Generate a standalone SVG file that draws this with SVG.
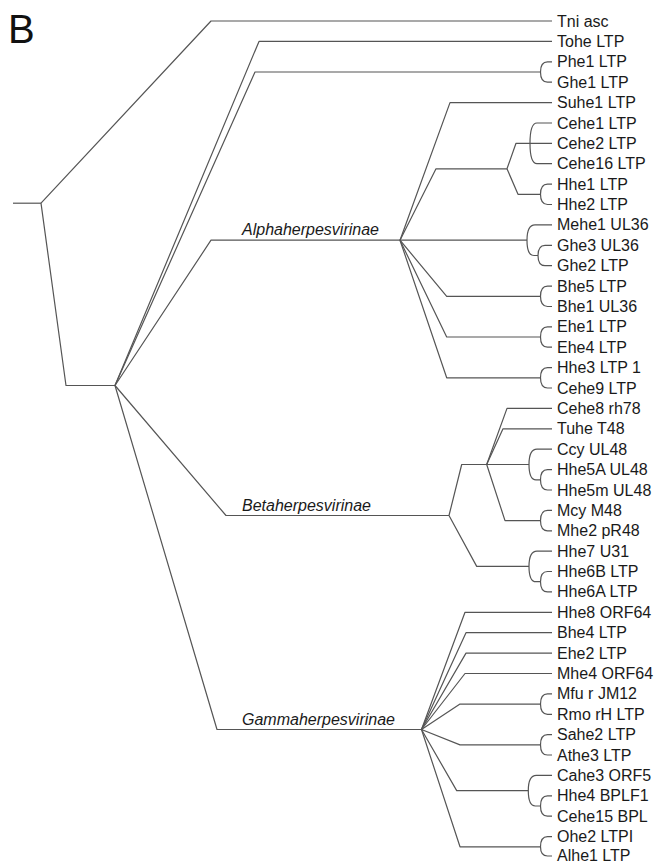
<svg xmlns="http://www.w3.org/2000/svg" width="657" height="863" viewBox="0 0 657 863">
  <style>
    .br { fill: none; stroke: #555; stroke-width: 1.2; stroke-linejoin: round; stroke-linecap: butt; }
    .leaf { font-family: "Liberation Sans", Arial, Helvetica, sans-serif; font-size: 16px; fill: #1a1a1a; }
    .clade { font-family: "Liberation Sans", Arial, Helvetica, sans-serif; font-size: 16px; font-style: italic; fill: #1a1a1a; }
    .panel { font-family: "Liberation Sans", Arial, Helvetica, sans-serif; font-size: 40px; fill: #111; }
  </style>
  <rect width="657" height="863" fill="#fff"/>

  <g id="panel-label"><text class="panel" x="8" y="43">B</text></g>

  <!-- branches of the tree -->
  <g id="branches" class="br">
    <!-- root -->
    <path d="M13 203.2 H41"/>
    <path d="M41 203.2 L211 21 H552"/>
    <path d="M41 203.2 L66 385.5 H115"/>
    <!-- node A -->
    <path d="M115 385.5 L259 41.4 H552"/>
    <path d="M115 385.5 L255 72 H540.5"/>
    <path d="M540.5 72 Q540.5 61.8 547.5 61.8 H552 M540.5 72 Q540.5 82.2 547.5 82.2 H552"/>
    <path d="M115 385.5 L211 240.2 H400"/>
    <path d="M115 385.5 L226 515.5 H449"/>
    <path d="M115 385.5 L217 729.5 H421.5"/>

    <!-- Alphaherpesvirinae -->
    <path d="M400 240.2 L450 102.6 H552"/>
    <path d="M400 240.2 L436 168.8 H507"/>
    <path d="M507 168.8 L516 143.3 H530"/>
    <path d="M530 143.3 Q530 123 537 123 H552 M530 143.3 H552 M530 143.3 Q530 163.7 537 163.7 H552"/>
    <path d="M507 168.8 L518 194.3 H540.5"/>
    <path d="M540.5 194.3 Q540.5 184.1 547.5 184.1 H552 M540.5 194.3 Q540.5 204.5 547.5 204.5 H552"/>
    <path d="M400 240.2 H527"/>
    <path d="M527 240.2 Q527 224.9 535 224.9 H552 M527 240.2 Q527 255.5 534 255.5 H538"/>
    <path d="M538 255.5 Q538 245.3 545 245.3 H552 M538 255.5 Q538 265.7 545 265.7 H552"/>
    <path d="M400 240.2 L446.7 296.3 H540.5"/>
    <path d="M540.5 296.3 Q540.5 286.1 547.5 286.1 H552 M540.5 296.3 Q540.5 306.5 547.5 306.5 H552"/>
    <path d="M400 240.2 L446.7 337 H540.5"/>
    <path d="M540.5 337 Q540.5 326.9 547.5 326.9 H552 M540.5 337 Q540.5 347.2 547.5 347.2 H552"/>
    <path d="M400 240.2 L446.7 377.8 H540.5"/>
    <path d="M540.5 377.8 Q540.5 367.6 547.5 367.6 H552 M540.5 377.8 Q540.5 388 547.5 388 H552"/>

    <!-- Betaherpesvirinae -->
    <path d="M449 515.5 L461.7 464.5 H529"/>
    <path d="M486.7 464.5 L507 408.4 H552"/>
    <path d="M486.7 464.5 L503 428.8 H552"/>
    <path d="M529 464.5 Q529 449.2 537 449.2 H552 M529 464.5 Q529 479.8 536 479.8 H540.5"/>
    <path d="M540.5 479.8 Q540.5 469.6 547.5 469.6 H552 M540.5 479.8 Q540.5 490 547.5 490 H552"/>
    <path d="M486.7 464.5 L505 520.6 H540.5"/>
    <path d="M540.5 520.6 Q540.5 510.4 547.5 510.4 H552 M540.5 520.6 Q540.5 530.8 547.5 530.8 H552"/>
    <path d="M449 515.5 L476.7 566.4 H529"/>
    <path d="M529 566.4 Q529 551.1 537 551.1 H552 M529 566.4 Q529 581.7 536 581.7 H540.5"/>
    <path d="M540.5 581.7 Q540.5 571.5 547.5 571.5 H552 M540.5 581.7 Q540.5 591.9 547.5 591.9 H552"/>

    <!-- Gammaherpesvirinae -->
    <path d="M421.5 729.5 L465 612.3 H552"/>
    <path d="M421.5 729.5 L466 632.7 H552"/>
    <path d="M421.5 729.5 L466 653.1 H552"/>
    <path d="M421.5 729.5 L465 673.5 H552"/>
    <path d="M421.5 729.5 L460 704.1 H540.5"/>
    <path d="M540.5 704.1 Q540.5 693.9 547.5 693.9 H552 M540.5 704.1 Q540.5 714.3 547.5 714.3 H552"/>
    <path d="M421.5 729.5 L460 744.9 H540.5"/>
    <path d="M540.5 744.9 Q540.5 734.7 547.5 734.7 H552 M540.5 744.9 Q540.5 755 547.5 755 H552"/>
    <path d="M421.5 729.5 L456.7 790.6 H528.3"/>
    <path d="M528.3 790.6 Q528.3 775.4 536.3 775.4 H552 M528.3 790.6 Q528.3 806 535.3 806 H540.5"/>
    <path d="M540.5 806 Q540.5 795.8 547.5 795.8 H552 M540.5 806 Q540.5 816.2 547.5 816.2 H552"/>
    <path d="M421.5 729.5 L460 846.8 H540.5"/>
    <path d="M540.5 846.8 Q540.5 836.6 547.5 836.6 H552 M540.5 846.8 Q540.5 856 547.5 856 H552"/>
  </g>

  <!-- clade names -->
  <g id="clade-alpha"><text class="clade" x="242" y="235">Alphaherpesvirinae</text></g>
  <g id="clade-beta"><text class="clade" x="242" y="510.5">Betaherpesvirinae</text></g>
  <g id="clade-gamma"><text class="clade" x="242" y="724.5">Gammaherpesvirinae</text></g>

  <!-- leaf names -->
  <g id="leaf-tni-asc"><text class="leaf" x="557" y="26.5">Tni asc</text></g>
  <g id="leaf-tohe-ltp"><text class="leaf" x="557" y="46.9">Tohe LTP</text></g>
  <g id="leaf-phe1-ltp"><text class="leaf" x="557" y="67.3">Phe1 LTP</text></g>
  <g id="leaf-ghe1-ltp"><text class="leaf" x="557" y="87.7">Ghe1 LTP</text></g>
  <g id="leaf-suhe1-ltp"><text class="leaf" x="557" y="108.1">Suhe1 LTP</text></g>
  <g id="leaf-cehe1-ltp"><text class="leaf" x="557" y="128.5">Cehe1 LTP</text></g>
  <g id="leaf-cehe2-ltp"><text class="leaf" x="557" y="148.8">Cehe2 LTP</text></g>
  <g id="leaf-cehe16-ltp"><text class="leaf" x="557" y="169.2">Cehe16 LTP</text></g>
  <g id="leaf-hhe1-ltp"><text class="leaf" x="557" y="189.6">Hhe1 LTP</text></g>
  <g id="leaf-hhe2-ltp"><text class="leaf" x="557" y="210">Hhe2 LTP</text></g>
  <g id="leaf-mehe1-ul36"><text class="leaf" x="557" y="230.4">Mehe1 UL36</text></g>
  <g id="leaf-ghe3-ul36"><text class="leaf" x="557" y="250.8">Ghe3 UL36</text></g>
  <g id="leaf-ghe2-ltp"><text class="leaf" x="557" y="271.2">Ghe2 LTP</text></g>
  <g id="leaf-bhe5-ltp"><text class="leaf" x="557" y="291.6">Bhe5 LTP</text></g>
  <g id="leaf-bhe1-ul36"><text class="leaf" x="557" y="312">Bhe1 UL36</text></g>
  <g id="leaf-ehe1-ltp"><text class="leaf" x="557" y="332.4">Ehe1 LTP</text></g>
  <g id="leaf-ehe4-ltp"><text class="leaf" x="557" y="352.7">Ehe4 LTP</text></g>
  <g id="leaf-hhe3-ltp-1"><text class="leaf" x="557" y="373.1">Hhe3 LTP 1</text></g>
  <g id="leaf-cehe9-ltp"><text class="leaf" x="557" y="393.5">Cehe9 LTP</text></g>
  <g id="leaf-cehe8-rh78"><text class="leaf" x="557" y="413.9">Cehe8 rh78</text></g>
  <g id="leaf-tuhe-t48"><text class="leaf" x="557" y="434.3">Tuhe T48</text></g>
  <g id="leaf-ccy-ul48"><text class="leaf" x="557" y="454.7">Ccy UL48</text></g>
  <g id="leaf-hhe5a-ul48"><text class="leaf" x="557" y="475.1">Hhe5A UL48</text></g>
  <g id="leaf-hhe5m-ul48"><text class="leaf" x="557" y="495.5">Hhe5m UL48</text></g>
  <g id="leaf-mcy-m48"><text class="leaf" x="557" y="515.9">Mcy M48</text></g>
  <g id="leaf-mhe2-pr48"><text class="leaf" x="557" y="536.3">Mhe2 pR48</text></g>
  <g id="leaf-hhe7-u31"><text class="leaf" x="557" y="556.6">Hhe7 U31</text></g>
  <g id="leaf-hhe6b-ltp"><text class="leaf" x="557" y="577">Hhe6B LTP</text></g>
  <g id="leaf-hhe6a-ltp"><text class="leaf" x="557" y="597.4">Hhe6A LTP</text></g>
  <g id="leaf-hhe8-orf64"><text class="leaf" x="557" y="617.8">Hhe8 ORF64</text></g>
  <g id="leaf-bhe4-ltp"><text class="leaf" x="557" y="638.2">Bhe4 LTP</text></g>
  <g id="leaf-ehe2-ltp"><text class="leaf" x="557" y="658.6">Ehe2 LTP</text></g>
  <g id="leaf-mhe4-orf64"><text class="leaf" x="557" y="679">Mhe4 ORF64</text></g>
  <g id="leaf-mfu-r-jm12"><text class="leaf" x="557" y="699.4">Mfu r JM12</text></g>
  <g id="leaf-rmo-rh-ltp"><text class="leaf" x="557" y="719.8">Rmo rH LTP</text></g>
  <g id="leaf-sahe2-ltp"><text class="leaf" x="557" y="740.2">Sahe2 LTP</text></g>
  <g id="leaf-athe3-ltp"><text class="leaf" x="557" y="760.5">Athe3 LTP</text></g>
  <g id="leaf-cahe3-orf5"><text class="leaf" x="557" y="780.9">Cahe3 ORF5</text></g>
  <g id="leaf-hhe4-bplf1"><text class="leaf" x="557" y="801.3">Hhe4 BPLF1</text></g>
  <g id="leaf-cehe15-bpl"><text class="leaf" x="557" y="821.7">Cehe15 BPL</text></g>
  <g id="leaf-ohe2-ltpi"><text class="leaf" x="557" y="842.1">Ohe2 LTPI</text></g>
  <g id="leaf-alhe1-ltp"><text class="leaf" x="557" y="861">Alhe1 LTP</text></g>
</svg>
